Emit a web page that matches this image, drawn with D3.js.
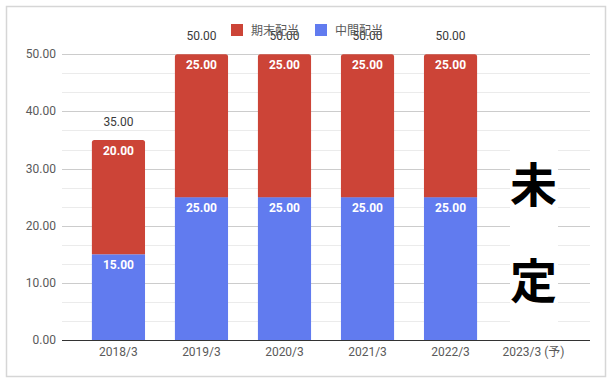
<!DOCTYPE html>
<html><head><meta charset="utf-8">
<script src="https://cdn.jsdelivr.net/npm/d3@7"></script>
<style>
html,body{margin:0;padding:0;background:#fff;}
svg{display:block;font-family:Roboto,"Noto Sans CJK JP",sans-serif;}
</style></head>
<body><svg id="c" width="614" height="384"></svg>
<script>
const categories = ["2018/3","2019/3","2020/3","2021/3","2022/3","2023/3 (予)"];
const interim = [15,25,25,25,25,null];   // 中間配当
const yearEnd = [20,25,25,25,25,null];   // 期末配当
const seriesNames = ["期末配当","中間配当"];
const seriesColors = ["#cc4437","#617bef"];
const yTicks = [0,10,20,30,40,50];
const pendingText = ["未","定"];

const svg = d3.select("#c");
const left = 62, right = 590, y0 = 340, yTop = 54.3;

// outer border
svg.append("rect").attr("x",6.5).attr("y",6.5).attr("width",599).attr("height",370)
  .attr("fill","#fff").attr("stroke","#d6d6d6").attr("stroke-width",1.5);

const x = d3.scaleBand().domain(categories).range([left,right]).paddingInner(0.36).paddingOuter(0.36);
const y = d3.scaleLinear().domain([0,50]).range([y0,yTop]);

// minor gridlines
const minor = [];
for (let i=0;i<5;i++){ minor.push(i*10+10/3, i*10+20/3); }
svg.append("g").selectAll("line").data(minor).join("line")
  .attr("x1",left).attr("x2",right).attr("y1",d=>Math.round(y(d))+0.5).attr("y2",d=>Math.round(y(d))+0.5)
  .attr("stroke","#ebebeb").attr("stroke-width",1);
// major gridlines
svg.append("g").selectAll("line").data(yTicks.filter(d=>d>0)).join("line")
  .attr("x1",left).attr("x2",right).attr("y1",d=>Math.round(y(d))+0.5).attr("y2",d=>Math.round(y(d))+0.5)
  .attr("stroke","#cccccc").attr("stroke-width",1);

// y labels
svg.append("g").selectAll("text").data(yTicks).join("text")
  .attr("x",56).attr("y",d=>y(d)+4).attr("text-anchor","end")
  .attr("font-size",12).attr("fill","#5a5a5a").text(d=>d3.format(".2f")(d));

// bars
const idx = categories.map((c,i)=>i).filter(i=>interim[i]!=null);
const g = svg.append("g");
const bw = x.bandwidth();
function topRounded(x0,yt,w,h,r){
  return `M${x0},${yt+h}V${yt+r}Q${x0},${yt} ${x0+r},${yt}H${x0+w-r}Q${x0+w},${yt} ${x0+w},${yt+r}V${yt+h}Z`;
}
idx.forEach(i=>{
  const c = categories[i];
  const xb = x(c);
  g.append("rect").attr("x",xb).attr("width",bw)
    .attr("y",y(interim[i])).attr("height",y(0)-y(interim[i])).attr("fill",seriesColors[1]);
  const tTop = y(interim[i]+yearEnd[i]);
  g.append("path").attr("d",topRounded(xb,tTop,bw,y(interim[i])-tTop,2.5)).attr("fill",seriesColors[0]);
  g.append("text").attr("x",xb+bw/2).attr("y",y(interim[i])+14.5).attr("text-anchor","middle")
    .attr("font-size",12).attr("font-weight","bold").attr("fill","#fff").text(d3.format(".2f")(interim[i]));
  g.append("text").attr("x",xb+bw/2).attr("y",tTop+14.5).attr("text-anchor","middle")
    .attr("font-size",12).attr("font-weight","bold").attr("fill","#fff").text(d3.format(".2f")(yearEnd[i]));
  g.append("text").attr("x",xb+bw/2).attr("y",tTop-14).attr("text-anchor","middle")
    .attr("font-size",12).attr("fill","#3a3a3a").text(d3.format(".2f")(interim[i]+yearEnd[i]));
});

// baseline
svg.append("line").attr("x1",left).attr("x2",right).attr("y1",y0+0.5).attr("y2",y0+0.5)
  .attr("stroke","#333").attr("stroke-width",1);

// x labels
svg.append("g").selectAll("text").data(categories).join("text")
  .attr("x",d=>x(d)+bw/2).attr("y",356).attr("text-anchor","middle")
  .attr("font-size",12).attr("fill","#5a5a5a").text(d=>d);

// legend
const lg = svg.append("g");
const legX = [231,315];
seriesNames.forEach((n,i)=>{
  lg.append("rect").attr("x",legX[i]).attr("y",24).attr("width",12).attr("height",12).attr("fill",seriesColors[i]);
  lg.append("text").attr("x",legX[i]+20).attr("y",34.5).attr("font-size",12).attr("fill","#5a5a5a")
    .attr("font-family","'Noto Sans CJK JP',sans-serif").text(n);
});

// pending overlay
const pc = x(categories[5])+bw/2;
svg.append("rect").attr("x",510).attr("y",147).attr("width",48).attr("height",178).attr("fill","#fff");
const pY = [y(24.15), y(7.35)];
pendingText.forEach((t,i)=>{
  svg.append("text").attr("x",pc).attr("y",pY[i]).attr("text-anchor","middle")
    .attr("font-family","'Noto Sans CJK JP',sans-serif").attr("font-weight","bold")
    .attr("font-size",47).attr("fill","#000").text(t);
});
</script></body></html>
